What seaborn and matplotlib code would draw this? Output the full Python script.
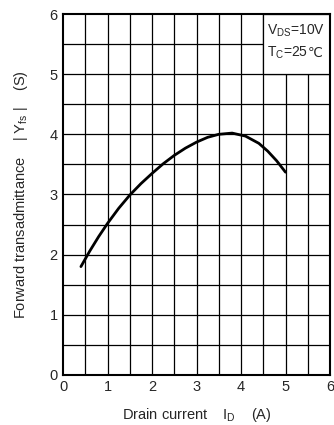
import matplotlib
matplotlib.use("Agg")
import matplotlib.pyplot as plt
import seaborn as sns
import pandas as pd
from matplotlib.patches import Rectangle

# Data
drain_current = [0.4, 0.6, 0.8, 1.0, 1.25, 1.5, 1.75, 2.0, 2.25, 2.5, 2.75, 3.0, 3.25, 3.5, 3.8, 4.1, 4.4, 4.6, 4.8, 5.0]
transadmittance = [1.8, 2.06, 2.3, 2.52, 2.77, 2.99, 3.18, 3.35, 3.51, 3.65, 3.77, 3.87, 3.95, 4.0, 4.02, 3.97, 3.85, 3.72, 3.56, 3.37]
x_ticks = [0, 1, 2, 3, 4, 5, 6]
y_ticks = [0, 1, 2, 3, 4, 5, 6]

sns.set_style("white")
plt.rcParams['font.family'] = ['Liberation Sans', 'DejaVu Sans']
plt.rcParams['mathtext.fontset'] = 'custom'
plt.rcParams['mathtext.rm'] = 'Liberation Sans'
plt.rcParams['mathtext.it'] = 'Liberation Sans'

df = pd.DataFrame({"ID": drain_current, "Yfs": transadmittance})

fig = plt.figure(figsize=(3.34, 4.25), dpi=100)
ax = fig.add_axes([0.189, 0.118, 0.799, 0.849])

# grid at 0.5 intervals
for v in [i * 0.5 for i in range(1, 12)]:
    ax.axvline(v, color='black', lw=0.9, zorder=1)
    ax.axhline(v, color='black', lw=0.9, zorder=1)

# white box masking grid behind the annotation
ax.add_patch(Rectangle((4.5, 5.0), 1.5, 1.0, facecolor='white', edgecolor='black', lw=0.9, zorder=2))

sns.lineplot(data=df, x="ID", y="Yfs", ax=ax, color='black', lw=2.0, zorder=3)

ax.set_xlim(0, 6)
ax.set_ylim(0, 6)
ax.set_xticks(x_ticks)
ax.set_yticks(y_ticks)
ax.tick_params(axis='both', length=0, labelsize=10.5, pad=4)
for s in ax.spines.values():
    s.set_color('black')
    s.set_linewidth(1.5)

ax.text(4.58, 5.72, r"V$_{\mathregular{DS}}$=10V", fontsize=10, zorder=4, va='center')
t = ax.text(4.58, 5.35, "T$_{\\mathregular{C}}$=25", fontsize=10, zorder=4, va='center')
ax.annotate("\u2103", xy=(1, 0.5), xycoords=t, va='center', ha='left',
            fontsize=9.5, family=['DejaVu Sans'], zorder=4)

ax.set_xlabel(r"Drain current    I$_{\mathregular{D}}$    (A)", fontsize=10.5, labelpad=8)
ax.set_ylabel(r"Forward transadmittance    | Y$_{\mathregular{fs}}$ |    (S)", fontsize=10.5, labelpad=14)

fig.savefig("out.png", dpi=100)
